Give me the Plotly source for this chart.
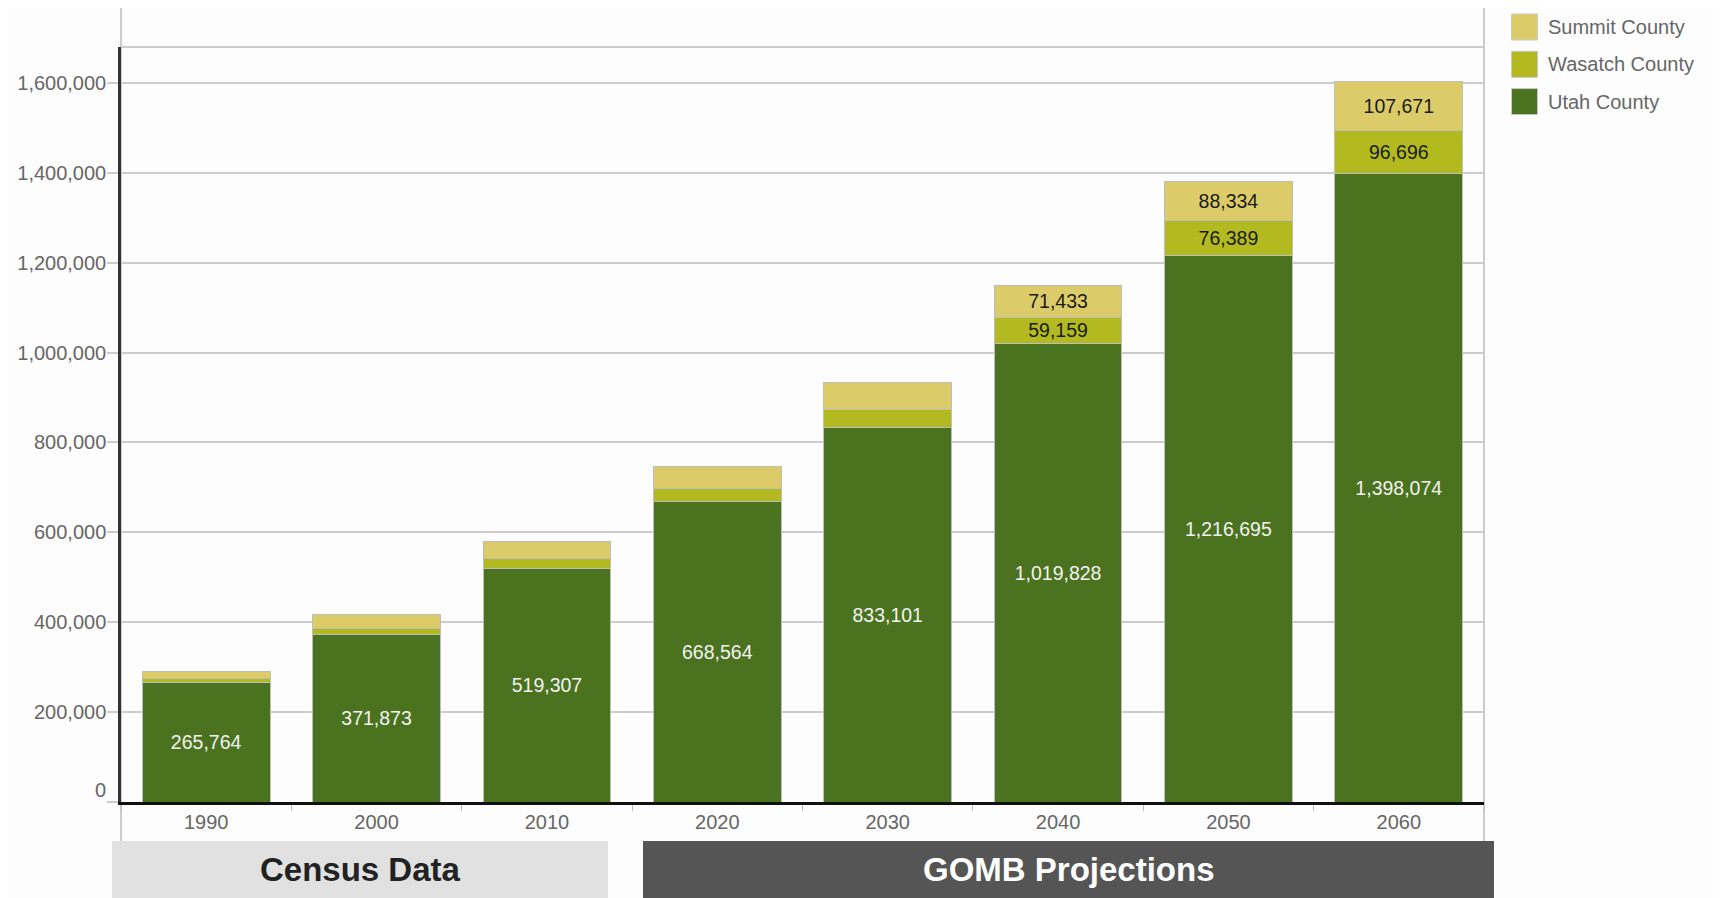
import plotly.graph_objects as go

# ---- data ----
years = ["1990", "2000", "2010", "2020", "2030", "2040", "2050", "2060"]
utah = [265764, 371873, 519307, 668564, 833101, 1019828, 1216695, 1398074]
wasatch = [10089, 15215, 23530, 28000, 40900, 59159, 76389, 96696]
summit = [15518, 29736, 36324, 48900, 59200, 71433, 88334, 107671]
small_labeled = [False, False, False, False, False, True, True, True]
series_names = ["Summit County", "Wasatch County", "Utah County"]
group_labels = ["Census Data", "GOMB Projections"]
y_ticks = [0, 200000, 400000, 600000, 800000, 1000000, 1200000, 1400000, 1600000]

# ---- style ----
C_UTAH = "#4b721e"
C_WAS = "#b3ba1f"
C_SUM = "#dccc69"
BG = "#fdfdfd"
FONT = "Liberation Sans, Arial, sans-serif"
OFF = 8  # default page body margin
W, H = 1721 - OFF, 898 - OFF
L, R, T, B = 121 - OFF, 237, 47 - OFF, 96
PW, PH = W - L - R, H - T - B


def px_x(p):
    # p: page pixel x
    return (p - OFF - L) / PW


def px_y(p):
    # p: page pixel y
    return (H - B - (p - OFF)) / PH


def fmt(v):
    return f"{v:,}"


fig = go.Figure()
line_style = dict(color="#bdbdbd", width=1)

fig.add_trace(go.Bar(
    x=years, y=utah, name=series_names[2],
    marker=dict(color=C_UTAH, line=line_style),
    text=[fmt(v) for v in utah], textposition="inside",
    insidetextanchor="middle", textangle=0,
    textfont=dict(family=FONT, size=19.5, color="#f2f2f2"),
    showlegend=False, hoverinfo="skip",
))
fig.add_trace(go.Bar(
    x=years, y=wasatch, name=series_names[1],
    marker=dict(color=C_WAS, line=line_style),
    text=[fmt(v) if s else "" for v, s in zip(wasatch, small_labeled)],
    textposition="inside", insidetextanchor="middle", textangle=0,
    textfont=dict(family=FONT, size=19.5, color="#1a1a1a"),
    showlegend=False, hoverinfo="skip",
))
fig.add_trace(go.Bar(
    x=years, y=summit, name=series_names[0],
    marker=dict(color=C_SUM, line=line_style),
    text=[fmt(v) if s else "" for v, s in zip(summit, small_labeled)],
    textposition="inside", insidetextanchor="middle", textangle=0,
    textfont=dict(family=FONT, size=19.5, color="#1a1a1a"),
    showlegend=False, hoverinfo="skip",
))

shapes = []
annotations = []

# frame lines
for xp in (0, 1):
    shapes.append(dict(type="line", xref="paper", yref="paper",
                       x0=xp, x1=xp, y0=px_y(841), y1=px_y(7),
                       line=dict(color="#cccccc", width=2), layer="below"))
shapes.append(dict(type="line", xref="paper", yref="paper",
                   x0=0, x1=1, y0=1, y1=1,
                   line=dict(color="#cccccc", width=2), layer="below"))

# bottom group boxes
boxes = [
    (112, 608, "#e0e1e0", "#222222"),
    (643, 1494, "#555555", "#ffffff"),
]
for (x0, x1, fill, tcol), lab in zip(boxes, group_labels):
    shapes.append(dict(type="rect", xref="paper", yref="paper",
                       x0=px_x(x0), x1=px_x(x1), y0=px_y(898), y1=px_y(841),
                       fillcolor=fill, line=dict(width=0), layer="above"))
    annotations.append(dict(xref="paper", yref="paper",
                            x=px_x((x0 + x1) / 2), y=px_y(869.5),
                            text=f"<b>{lab}</b>", showarrow=False,
                            xanchor="center", yanchor="middle",
                            font=dict(family=FONT, size=33, color=tcol)))

# legend (manual, larger swatches)
leg_colors = [C_SUM, C_WAS, C_UTAH]
for i, (nm, col) in enumerate(zip(series_names, leg_colors)):
    top = 14 + i * 37.3
    shapes.append(dict(type="rect", xref="paper", yref="paper",
                       x0=px_x(1511.5), x1=px_x(1537.5),
                       y0=px_y(top + 26), y1=px_y(top),
                       fillcolor=col, line=dict(color="#c8c8c8", width=1)))
    annotations.append(dict(xref="paper", yref="paper",
                            x=px_x(1546), y=px_y(top + 13),
                            text=nm, showarrow=False,
                            xanchor="left", yanchor="middle",
                            font=dict(family=FONT, size=20, color="#666666")))

# the zero label sits slightly above the axis line in the reference
tick_text = [fmt(v) if v != 0 else "" for v in y_ticks]
annotations.append(dict(xref="paper", yref="paper",
                        x=px_x(107.5), y=px_y(790),
                        text=fmt(y_ticks[0]), showarrow=False,
                        xanchor="right", yanchor="middle",
                        font=dict(family=FONT, size=20, color="#666666")))

fig.update_layout(
    width=W, height=H,
    margin=dict(l=L, r=R, t=T, b=B, pad=0, autoexpand=False),
    paper_bgcolor=BG, plot_bgcolor=BG,
    barmode="stack", bargap=0.25,
    uniformtext=dict(minsize=19.5, mode="show"),
    shapes=shapes, annotations=annotations,
    showlegend=False,
    xaxis=dict(
        type="category", range=[-0.5, len(years) - 0.5], automargin=False,
        showgrid=False, showline=True, linecolor="#111111", linewidth=3,
        ticks="outside", tickson="boundaries", ticklen=6, tickwidth=1,
        tickcolor="#bbbbbb",
        tickfont=dict(family=FONT, size=20, color="#666666"),
        fixedrange=True,
    ),
    yaxis=dict(
        range=[0, 1680000], tickvals=y_ticks, ticktext=tick_text,
        automargin=False, ticklabelstandoff=-3,
        showgrid=True, gridcolor="#cccccc", gridwidth=2,
        zeroline=False,
        showline=True, linecolor="#333333", linewidth=2.5,
        ticks="outside", ticklen=11, tickwidth=2, tickcolor="#cccccc",
        tickfont=dict(family=FONT, size=20, color="#666666"),
        fixedrange=True,
    ),
)

fig.write_html("out.html")
